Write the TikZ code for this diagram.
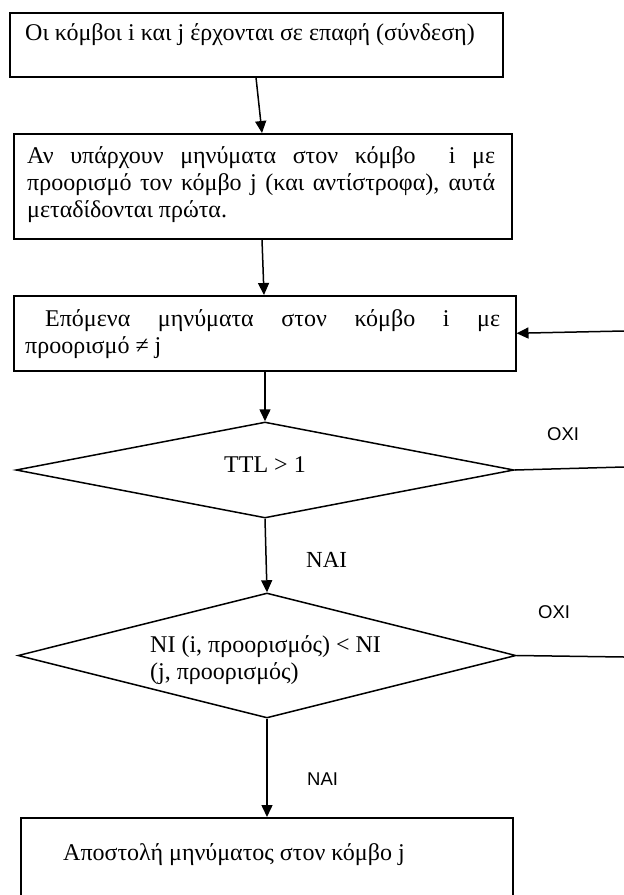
\documentclass[tikz,border=0pt]{standalone}
\usepackage{fontspec}
\setmainfont{Liberation Serif}
\newfontfamily\labelfont{Liberation Sans}
\usetikzlibrary{arrows.meta,shapes.geometric}

\begin{document}
\begin{tikzpicture}[x=1pt,y=-1pt]
\tikzset{
  box/.style={draw, line width=1.5pt, anchor=north west, inner sep=0pt},
  decision/.style={draw, line width=1.5pt, diamond, inner sep=0pt, aspect=5},
  flow/.style={draw, line width=1.5pt, -{Triangle[length=12pt,width=11pt]}},
  plain/.style={draw, line width=1.5pt},
  txt/.style={anchor=base west, inner sep=0pt, font=\fontsize{24}{27}\selectfont},
  seriflabel/.style={anchor=base west, inner sep=0pt, font=\fontsize{23}{26}\selectfont},
  sanslabel/.style={anchor=base west, inner sep=0pt, font=\labelfont\fontsize{18.5}{22}\selectfont}
}
\useasboundingbox (0,0) rectangle (624,895);

% process boxes
\node[box, minimum width=493pt, minimum height=64pt] (b1) at (9,12) {};
\node[box, minimum width=498pt, minimum height=105pt] (b2) at (13,133) {};
\node[box, minimum width=502pt, minimum height=75pt] (b3) at (13,295) {};
\node[box, minimum width=492pt, minimum height=90pt] (b4) at (20,817) {};

% decisions
\node[decision, minimum width=498pt, minimum height=96pt] (d1) at (265,470) {};
\node[decision, minimum width=498pt, minimum height=125pt] (d2) at (267,655.5) {};

% texts
\node[txt] (t1) at (25,40) {Οι κόμβοι i και j έρχονται σε επαφή (σύνδεση)};
\node[txt] (t2) at (27,163) {\parbox[t]{468pt}{%
  \makebox[468pt][s]{Αν υπάρχουν μηνύματα στον κόμβο \ i με}\\
  \makebox[468pt][s]{προορισμό τον κόμβο j (και αντίστροφα), αυτά}\\
  μεταδίδονται πρώτα.}};
\node[txt] (t3) at (25,326) {\parbox[t]{475pt}{%
  \hspace*{20pt}\makebox[455pt][s]{Επόμενα μηνύματα στον κόμβο i με}\\
  προορισμό ≠ j}};
\node[txt, anchor=base] (t4) at (265,472) {TTL > 1};
\node[txt] (t5) at (150,652) {\parbox[t]{330pt}{NI (i, προορισμός) < NI\\(j, προορισμός)}};
\node[txt] (t6) at (63,860) {Αποστολή μηνύματος στον κόμβο j};

% branch labels
\node[seriflabel] (yes1) at (306,567) {ΝΑΙ};
\node[sanslabel] (no1) at (547,440) {ΟΧΙ};
\node[sanslabel] (no2) at (538,618) {ΟΧΙ};
\node[sanslabel] (yes2) at (307,785) {ΝΑΙ};

% main flow
\draw[flow] ([xshift=247pt]b1.south west) -- ([xshift=249pt]b2.north west);
\draw[flow] ([xshift=249pt]b2.south west) -- ([xshift=251pt]b3.north west);
\draw[flow] ([xshift=252pt]b3.south west) -- (d1.north);
\draw[flow] (d1.south) -- (d2.north);
\draw[flow] (d2.south) -- ([xshift=247pt]b4.north west);

% loop back on the right
\coordinate (r0) at (624,331);
\coordinate (r1) at (624,467);
\coordinate (r2) at (624,657);
\draw[flow] (r0) -- (b3.east);
\draw[plain] (d1.east) -- (r1);
\draw[plain] (d2.east) -- (r2);
\end{tikzpicture}
\end{document}
